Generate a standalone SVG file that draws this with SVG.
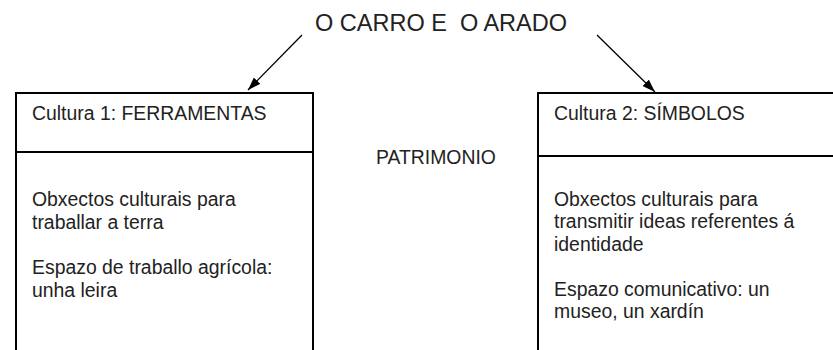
<svg xmlns="http://www.w3.org/2000/svg" width="833" height="350" viewBox="0 0 833 350">
<style>
text{font-family:"Liberation Sans",Arial,sans-serif;fill:#222;}
.t{font-size:19.4px;}
.title{font-size:23.5px;white-space:pre;}
.box{fill:#fff;stroke:#000;stroke-width:2;}
.div{stroke:#000;stroke-width:2;}
.conn{stroke:#000;stroke-width:1.3;fill:none;marker-end:url(#ah);}
</style>
<defs>
<marker id="ah" markerUnits="userSpaceOnUse" markerWidth="14" markerHeight="10" refX="13" refY="4.5" orient="auto" viewBox="0 0 14 10">
<path d="M0,0 L13,4.5 L0,9 z" fill="#000"/>
</marker>
</defs>
<rect width="833" height="350" fill="#fff"/>
<g id="title"><text class="title" x="315" y="31" xml:space="preserve">O CARRO E  O ARADO</text></g>
<g id="cultura1">
<rect class="box" x="16" y="93" width="297" height="300"/>
<line class="div" x1="16" y1="152" x2="313" y2="152"/>
<text class="t" x="32" y="120">Cultura 1: FERRAMENTAS</text>
<text class="t" x="32" y="206">Obxectos culturais para</text>
<text class="t" x="32" y="229">traballar a terra</text>
<text class="t" x="32" y="274">Espazo de traballo agrícola:</text>
<text class="t" x="32" y="297">unha leira</text>
</g>
<g id="patrimonio"><text class="t" x="376" y="164">PATRIMONIO</text></g>
<g id="cultura2">
<rect class="box" x="538" y="93" width="400" height="300"/>
<line class="div" x1="538" y1="156" x2="833" y2="156"/>
<text class="t" x="554" y="120">Cultura 2: SÍMBOLOS</text>
<text class="t" x="554" y="206">Obxectos culturais para</text>
<text class="t" x="554" y="228">transmitir ideas referentes á</text>
<text class="t" x="554" y="251">identidade</text>
<text class="t" x="554" y="296">Espazo comunicativo: un</text>
<text class="t" x="554" y="318">museo, un xardín</text>
</g>
<g id="connectors">
<line class="conn" x1="302" y1="35" x2="248" y2="90"/>
<line class="conn" x1="597" y1="35" x2="655" y2="92"/>
</g>
</svg>
